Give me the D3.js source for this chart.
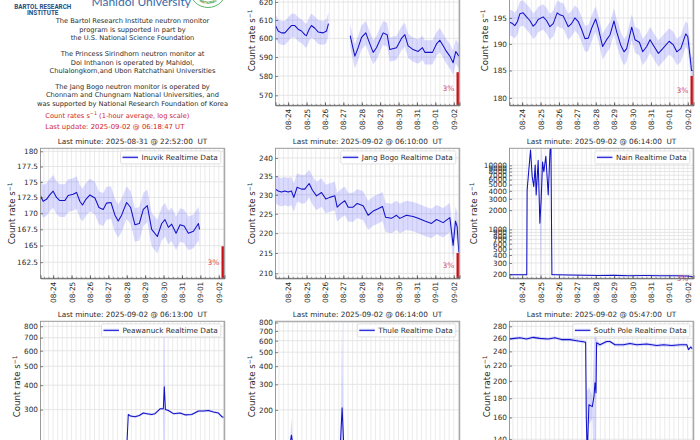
<!DOCTYPE html>
<html><head><meta charset="utf-8">
<script src="https://cdnjs.cloudflare.com/ajax/libs/d3/7.8.5/d3.min.js"></script>
<style>
html,body{margin:0;padding:0;background:#fff;overflow:hidden}
svg{display:block;font-family:"DejaVu Sans",sans-serif}
</style></head><body>
<script>
// ---- values; hours are counted from 08-24 00:00 UT ----
const dayTicks = ["08-24","08-25","08-26","08-27","08-28","08-29","08-30","08-31","09-01","09-02"];

const barentsHours = [-16.5,-13,-8.7,-4.3,0,4.3,8.7,13,17.4,21.7,23.9,27.4,30.4,34.8,39.1,45.7,50,52.6,null,80.9,83.9,87,91.3,95.7,101.3,105.7,110.9,115.2,119.6,123.9,129.1,132.6,141.3,147.8,152.2,156.5,163,169.6,175.2,178.3,188.3,193.5,197.8,202.2,206.5,210.9,215.2,218.7,222.6];
const barentsValues = [607,604,603,603,605,607,607,605,604,602,601.5,605,607,605.5,603.5,603,604,608,null,601.5,596,590.5,595,600.5,603,598,592.5,595,599,603,602,594,595,600,602,596,594,593,595,592.5,592.5,597,599,596,593,590.5,587,593,590.5];
const barentsError = 6.5;

const fortHours = [-17,-12.6,-9.6,-6.1,-3,1.3,5.7,10,14.4,17.8,20.9,27.4,31.8,36.2,40.5,45.7,49.2,53.6,60.1,64.5,68.8,73.2,77.5,81.9,86.3,90.6,95.8,99.3,105,110.2,114.6,119.8,123.3,128.5,132.9,136.3,142.9,147.2,152.9,157.3,162.5,166.8,172.1,177.7,183.4,191.7,197.3,201.7,206.9,213.4,216,219.1,220.9,222.5];
const fortValues = [194.2,193.9,193.5,194.3,195.8,196,195.2,194.5,193.4,193.9,194.7,195.2,194.5,193.3,193.9,196,195.6,195.4,193.3,193.9,195,194.3,192.8,191,191.1,193,194.8,193,189.5,190.8,191.7,194.4,192.3,189.8,188.5,189.1,193.2,190.8,190.3,188.5,189.5,190.8,189.5,188.2,189.1,190.5,189.8,188.5,189.1,191.9,191.4,187.5,185,185];
const fortError = 2.5;

const inuvikHours = [-16.6,-13.1,-8.7,-4.4,0,4.4,8.7,15.2,19.6,26.1,30.5,34.8,38.3,42.7,47.9,54.5,59.7,65.3,69.7,75.4,80.6,84.9,89.3,95.8,101.1,106.7,112.4,117.6,122.8,128.5,135.9,141.6,145.9,150.3,154.6,160.3,165.5,170.8,176.4,183,189.5,190.9];
const inuvikValues = [172.8,171.9,172.2,172.9,173.5,172.5,172,172,172.8,173,173.3,171.9,171.3,172.2,172.9,172.4,170.9,170.6,171.6,171.7,169.7,168.8,169.7,171.7,170.9,168.2,168.4,170.6,171.2,167.5,166.4,168.4,169,167.8,168.3,166.9,168.2,168,166.9,167.2,168.4,167.5];
const inuvikError = 2.6;

const jangBogoHours = [-16.5,-13,-8.7,-4.3,0,4.3,7.4,11.7,17.4,21.7,27.4,31.7,37,43.5,49.1,54.3,60.9,63.9,68.3,73.9,78.3,84.8,90,97.8,104.3,110.9,117.4,123,127,134.8,141.3,145.7,154.3,163,169.6,178.3,187,193.5,202.2,210.9,215.2,218.3,220.4,222.6];
const jangBogoValues = [231.5,231,230.7,231,230.7,231,229.3,232,231.5,231.5,233,231.2,229.7,230.6,228.9,229.3,229.7,226.7,227.6,228.4,226.7,226.7,227.7,227.1,224.6,225.7,226.3,226.9,224.1,223.8,224.6,223.8,224.6,224.3,223.8,223.1,222.5,223.5,222.7,224,216.9,223.1,221.7,215.2];
const jangBogoError = 3.8;

const nainHours = [-17,0,6,6.5,10.9,13.1,15.2,17,18.3,20.9,23.1,24.8,26.6,28.3,30.9,34,36.2,37.5,38.8,44,60,80,100,120,140,160,180,200,215,222.5];
const nainValues = [196,196,196,4127,17360,6660,4660,10100,3450,12000,1245,2880,11300,7960,13800,3450,15400,24700,197,197,195,193,191,192,190,191,190,189,188,184];
const nainError = [3,3,3,300,900,500,400,700,300,900,150,24000,900,600,900,300,1000,1500,3,3,3,3,3,3,3,3,3,3,3,3];

const peawanuckHours = [95.4,98,101,106.7,112.4,117.6,122,128.5,132.9,139.4,143.7,145,146.4,150.3,156.8,165.5,172,180.8,189.5,196,202.6,209,215.6,220,222.2];
const peawanuckValues = [170,283,278,275.6,280,288,286,283,286,303,303,392,300,297,286,288,282,283,295,295,297,292,288,276,274];
const peawanuckError = [3,4,4,4,4,4,4,4,4,4,4,700,4,4,4,4,4,4,4,4,4,4,4,4,4];

const thuleHours = [-17,2,4.3,6.5,68,70.4,72.5,222.2];
const thuleValues = [112,112,134,112,112,207,113,109];
const thuleError = [2,2,40,2,2,700,2,2];

const southPoleHours = [-17,-9.6,-3,5.7,14.4,23.1,34,42.7,51.4,62.3,71,79.7,82.8,83.6,84.9,87.1,91.5,93.7,95,96.3,97.1,101.5,110.2,114.6,121.1,132,140.7,149.4,162.5,175.6,184.3,195.2,206,214.8,216.9,220,221.8];
const southPoleValues = [259,260,261,259,261.6,260,259,261,258,258,256.3,254.7,254,161,128,173,171,182,198,186,253,250,255,255,250,250,252,250,251,248.7,250,248.7,250,250,242.7,246.6,243.9];
const southPoleError = [2.5,2.5,2.5,2.5,2.5,2.5,2.5,2.5,2.5,2.5,2.5,2.5,3,40,60,20,12,70,90,80,6,2.5,2.5,2.5,2.5,2.5,2.5,2.5,2.5,2.5,2.5,2.5,2.5,2.5,2.5,2.5,2.5];

const barentsTicks = [570,580,590,600,610,620];
const fortTicks = [180,185,190,195,200];
const inuvikTicks = [162.5,165,167.5,170,172.5,175,177.5,180];
const jangBogoTicks = [210,215,220,225,230,235,240];
const nainTicks = [200,300,400,500,600,700,800,900,1000,2000,3000,4000,5000,6000,7000,8000,9000,10000];
const peawanuckTicks = [200,300,400,500,600,700,800];
const thuleTicks = [200,300,400,500,600,700,800];
const southPoleTicks = [140,160,180,200,220,240,260,280];

const aboutLines = [
 ["The Bartol Research Institute neutron monitor",21],
 ["program is supported in part by",29.3],
 ["the U.S. National Science Foundation",37.7],
 ["The Princess Sirindhorn neutron monitor at",54],
 ["Doi Inthanon is operated by Mahidol,",62.3],
 ["Chulalongkorn,and Ubon Ratchathani Universities",70.7],
 ["The Jang Bogo neutron monitor is operated by",86.7],
 ["Chonnam and Chungnam National Universities, and",95],
 ["was supported by National Research Foundation of Korea",103.3]
];

const pageW = 700, pageH = 440, pW = 184, pH = 130;
const colX = [40.5,275.5,509.5], rowY = [-24.7,148.3,321.3];
const t0 = Date.UTC(2025,7,24);
const hourDate = h => new Date(t0 + h*3600e3);
const xDomain = [hourDate(-16.5), hourDate(223.5)];

const panels = [
 {c:1,r:0,name:"Barents",title:"Last minute: 2025-09-02 @ 06:10:00  UT",h:barentsHours,v:barentsValues,e:barentsError,lo:564.9,hi:635.1,ticks:barentsTicks,labX:252,bar:582},
 {c:2,r:0,name:"Fort Smith",title:"Last minute: 2025-09-02 @ 06:14:00  UT",h:fortHours,v:fortValues,e:fortError,lo:178.67,hi:203.5,ticks:fortTicks,labX:485,bar:184},
 {c:0,r:1,name:"Inuvik",title:"Last minute: 2025-08-31 @ 22:52:00  UT",h:inuvikHours,v:inuvikValues,e:inuvikError,lo:160.1,hi:180.5,ticks:inuvikTicks,labX:11.5,bar:164.9},
 {c:1,r:1,name:"Jang Bogo",title:"Last minute: 2025-09-02 @ 06:10:00  UT",h:jangBogoHours,v:jangBogoValues,e:jangBogoError,lo:208.8,hi:242.7,ticks:jangBogoTicks,labX:252,bar:215},
 {c:2,r:1,name:"Nain",title:"Last minute: 2025-09-02 @ 06:14:00  UT",h:nainHours,v:nainValues,e:nainError,lo:173,hi:18430,ticks:nainTicks,labX:474,bar:178},
 {c:0,r:2,name:"Peawanuck",title:"Last minute: 2025-09-02 @ 06:13:00  UT",h:peawanuckHours,v:peawanuckValues,e:peawanuckError,lo:183.6,hi:848.5,ticks:peawanuckTicks,labX:17,bar:189},
 {c:1,r:2,name:"Thule",title:"Last minute: 2025-09-02 @ 06:14:00  UT",h:thuleHours,v:thuleValues,e:thuleError,lo:103.7,hi:816,ticks:thuleTicks,labX:252,bar:107},
 {c:2,r:2,name:"South Pole",title:"Last minute: 2025-09-02 @ 05:47:00  UT",h:southPoleHours,v:southPoleValues,e:southPoleError,lo:130,hi:288.7,ticks:southPoleTicks,labX:487,bar:134}
];

const svg = d3.select("body").append("svg").attr("width",pageW).attr("height",pageH);
const defs = svg.append("defs");
const textCol = "#2b2b2b", red = "#d2232a";

panels.forEach((p,i)=>{
  const L = colX[p.c], T = rowY[p.r];
  const x = d3.scaleUtc().domain(xDomain).range([0,pW]);
  const y = d3.scaleLog().domain([p.lo,p.hi]).range([pH,0]);
  const g = svg.append("g").attr("transform",`translate(${L},${T})`);
  defs.append("clipPath").attr("id","c"+i).append("rect").attr("width",pW).attr("height",pH);

  const sixHours = d3.utcHour.every(6).range(...xDomain);
  const days = dayTicks.map((_,k)=>hourDate(24*k));

  const grid = g.append("g");
  grid.selectAll("line.v").data(sixHours).join("line").attr("x1",x).attr("x2",x).attr("y1",0).attr("y2",pH)
      .attr("stroke","#e6e6e6").attr("stroke-width",0.8);
  grid.selectAll("line.h").data(p.ticks.filter(t=>t>=p.lo&&t<=p.hi)).join("line").attr("x1",0).attr("x2",pW)
      .attr("y1",y).attr("y2",y).attr("stroke","#e0e0e0").attr("stroke-width",0.8);

  const rows = p.h.map((h,k)=>({h, v:p.v[k], e:Array.isArray(p.e)?p.e[k]:p.e}));
  const defd = d => d.h!==null;
  const plot = g.append("g").attr("clip-path",`url(#c${i})`);
  plot.append("path").datum(rows).attr("fill","#0000ff").attr("fill-opacity",0.14)
    .attr("d",d3.area().defined(defd).x(d=>x(hourDate(d.h)))
      .y0(d=>y(Math.max(d.v-d.e,p.lo*0.5))).y1(d=>y(d.v+d.e)));
  plot.append("path").datum(rows).attr("fill","none").attr("stroke","#1212c8").attr("stroke-width",1.05)
    .attr("stroke-linejoin","round")
    .attr("d",d3.line().defined(defd).x(d=>x(hourDate(d.h))).y(d=>y(d.v)));
  plot.append("rect").attr("x",pW-3).attr("width",3).attr("y",y(p.bar)).attr("height",pH-y(p.bar)).attr("fill","#cc1018");

  g.append("text").attr("x",pW-5).attr("y",y(Math.sqrt(p.lo*p.bar))).attr("dy","0.36em").attr("text-anchor","end")
    .attr("font-size",7.5).attr("fill",red).attr("fill-opacity",0.85).text("3%");

  g.append("rect").attr("width",pW).attr("height",pH).attr("fill","none").attr("stroke","#9a9a9a").attr("stroke-width",1);
  g.append("line").attr("x1",pW).attr("x2",pW).attr("y1",0).attr("y2",pH).attr("stroke","#a8a8a8").attr("stroke-width",1.5);

  const minor = d3.axisBottom(x).tickValues(sixHours).tickSize(-1.5).tickFormat("");
  const mg = g.append("g").attr("transform",`translate(0,${pH})`).call(minor);
  mg.select(".domain").remove(); mg.selectAll("line").attr("stroke","#444").attr("stroke-width",0.5);
  const major = d3.axisBottom(x).tickValues(days).tickSize(-3).tickPadding(0).tickFormat((_,k)=>dayTicks[k]);
  const mj = g.append("g").attr("transform",`translate(0,${pH})`).call(major);
  mj.select(".domain").attr("stroke","#555").attr("stroke-width",0.8);
  mj.selectAll("line").attr("stroke","#333").attr("stroke-width",0.7);
  mj.selectAll("text").attr("transform","rotate(-90)").attr("text-anchor","end").attr("x",-3.5).attr("y",0).attr("dy","0.36em")
    .attr("font-size",7.3).attr("font-family",'"DejaVu Sans"').attr("fill",textCol);

  const left = d3.axisLeft(y).tickValues(p.ticks.filter(t=>t>=p.lo&&t<=p.hi)).tickSize(-2.5).tickPadding(2.5).tickFormat(d=>String(d));
  const la = g.append("g").call(left);
  la.select(".domain").remove(); la.selectAll("line").attr("stroke","#333").attr("stroke-width",0.6);
  la.selectAll("text").attr("font-size",7.3).attr("font-family",'"DejaVu Sans"').attr("fill",textCol);

  g.append("text").attr("x",pW/2).attr("y",-4.7).attr("text-anchor","middle").attr("font-size",7.3).attr("fill",textCol).attr("xml:space","preserve").style("white-space","pre").text(p.title);

  const yl = g.append("text").attr("transform",`translate(${p.labX-L+3},${pH/2}) rotate(-90)`).attr("text-anchor","middle").attr("font-size",8.6).attr("fill",textCol);
  yl.append("tspan").text("Count rate s");
  yl.append("tspan").attr("font-size",6.1).attr("dy",-3).text("−1");

  // legend
  const lg = g.append("g");
  const lt = lg.append("text").attr("y",9).attr("dy","0.36em").attr("font-size",7.3).attr("fill",textCol).text(p.name+" Realtime Data");
  const tw = lt.node().getComputedTextLength();
  const bx = pW-3.7-tw-24;
  lg.insert("rect","text").attr("x",bx).attr("y",2.6).attr("width",tw+24).attr("height",13).attr("rx",1.6)
    .attr("fill","#fff").attr("fill-opacity",0.85).attr("stroke","#d5d5d5").attr("stroke-width",0.7);
  lg.append("line").attr("x1",bx+2).attr("x2",bx+17.5).attr("y1",9).attr("y2",9).attr("stroke","#1212c8").attr("stroke-width",1.05);
  lg.append("rect").attr("x",bx+2).attr("y",7.4).attr("width",15.5).attr("height",3.2).attr("fill","#0000ff").attr("fill-opacity",0.12);
  lt.attr("x",bx+21);
});

// information panel
const infoSize = 6.68;
const info = svg.append("g").attr("font-size",infoSize).attr("fill",textCol).attr("text-anchor","middle");
aboutLines.forEach(([s,yy])=>info.append("text").attr("x",132.5).attr("y",yy+2.4).text(s));
const c1 = svg.append("text").attr("x",45.3).attr("y",118).attr("font-size",infoSize).attr("fill",red);
c1.append("tspan").text("Count rates s");
c1.append("tspan").attr("font-size",4.8).attr("dy",-2.6).text("−1");
c1.append("tspan").attr("dy",2.6).text(" (1-hour average, log scale)");
svg.append("text").attr("x",45.3).attr("y",129.1).attr("font-size",6.9).attr("fill",red).text("Last update: 2025-09-02 @ 06:18:47 UT");

// institutional logos (cropped at the top of the page)
svg.append("text").attr("x",42.7).attr("y",8.7).attr("text-anchor","middle").attr("font-family","Roboto,Arial,sans-serif").attr("font-weight",700).attr("font-size",6.3).attr("fill","#274d80").text("BARTOL RESEARCH");
svg.append("text").attr("x",42.7).attr("y",15.4).attr("text-anchor","middle").attr("font-family","Roboto,Arial,sans-serif").attr("font-weight",700).attr("font-size",6.3).attr("fill","#274d80").text("INSTITUTE");
svg.append("text").attr("x",91.5).attr("y",6).attr("font-family","Lato,Roboto,sans-serif").attr("font-size",12).attr("fill","#3a6aa8").text("Mahidol University");
svg.append("circle").attr("cx",208).attr("cy",-11).attr("r",18.5).attr("fill","#fff").attr("stroke","#5cb56a").attr("stroke-width",1);
defs.append("path").attr("id","ringArc").attr("d","M194,-5 A15.5,15.5 0 0 0 222,-5");
svg.append("text").attr("font-size",3.4).attr("font-weight",700).attr("fill","#3f9a52").append("textPath").attr("href","#ringArc").attr("startOffset","50%").attr("text-anchor","middle").text("NATIONAL");
</script>
</body></html>
